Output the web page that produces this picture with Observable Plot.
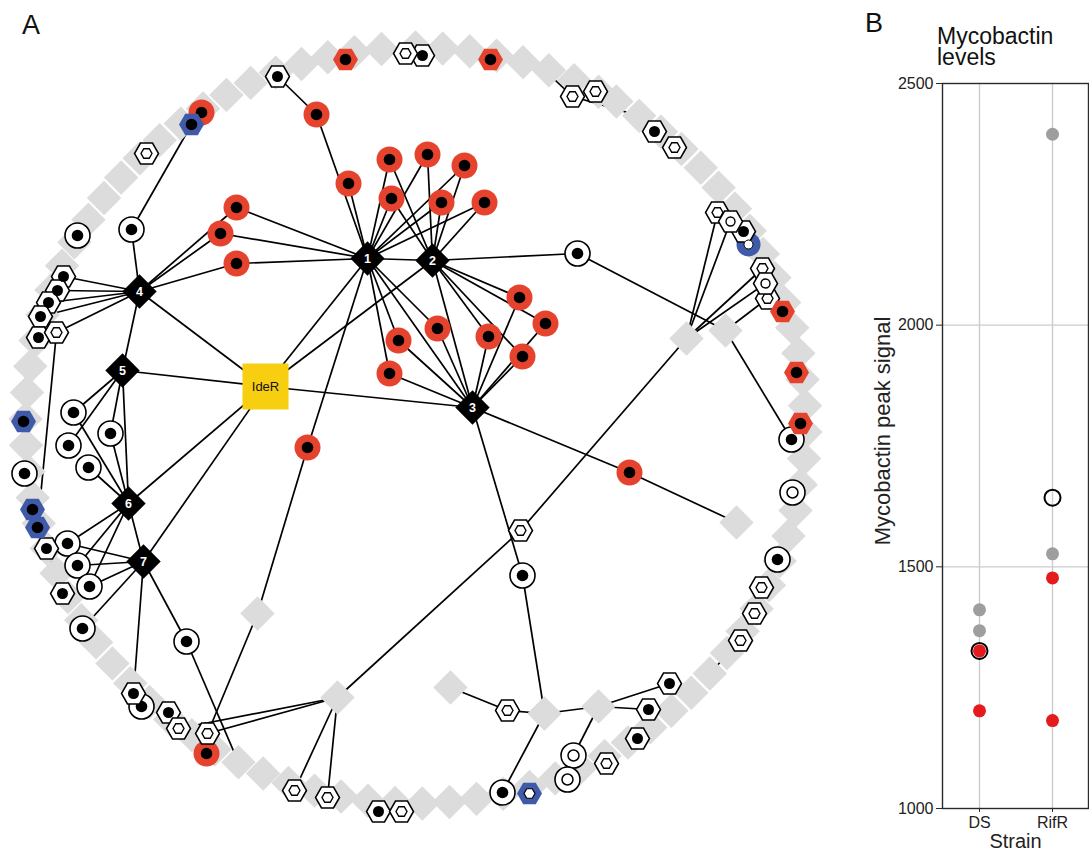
<!DOCTYPE html>
<html>
<head>
<meta charset="utf-8">
<script src="https://cdn.jsdelivr.net/npm/d3@7"></script>
<script src="https://cdn.jsdelivr.net/npm/@observablehq/plot@0.6"></script>
<style>
  body { margin: 0; background: white; }
  #wrap { position: relative; width: 1089px; height: 852px; font-family: "Liberation Sans", Arial, Helvetica, sans-serif; color: #111; overflow: hidden; }
  .lbl { position: absolute; line-height: 1; white-space: nowrap; }
</style>
</head>
<body>
<div id="wrap">
  <div id="panelA" style="position:absolute;left:0;top:0"></div>
  <div id="panelB" style="position:absolute;left:860px;top:0"></div>
  <div class="lbl" style="left:22px;top:12px;font-size:27px">A</div>
  <div class="lbl" style="left:865px;top:10px;font-size:27px">B</div>
  <div class="lbl" style="left:937px;top:26px;font-size:23px;line-height:21px">Mycobactin<br>levels</div>
</div>
<script>
// ---------------- Panel A: network (node positions) ----------------
const hubs = [["1",367,258],["2",432,260],["3",472,407],["4",139,291],["5",122,370],["6",128,503],["7",143,561]];
const ideR = ["IdeR",265,386];

const redCircles = [[316,114],[348,183],[389,159],[427,154],[464,165],[391,198],[441,202],[484,202],
  [236,207],[220,233],[236,263],[519,297],[545,323],[437,328],[488,336],[522,356],[398,340],[389,373],
  [307,447],[629,472],[206,753],[201,112]];
const dotCircles = [[77,235],[131,229],[577,253],[791,439],[777,559],[522,575],[502,792],[186,641],
  [82,628],[141,706],[73,412],[68,445],[88,467],[110,433],[24,473],[67,543],[77,565],[89,586]];
const ringCircles = [[792,492],[573,755],[567,779]];
const dotHexes = [[277,76],[422,55],[654,131],[743,231],[669,683],[648,709],[637,738],[63,276],[57,290],
  [48,302],[40,316],[38,337],[46,548],[62,593],[133,693],[168,712],[378,811]];
const hexHexes = [[146,153],[405,53],[572,96],[595,91],[674,147],[717,212],[762,268],[767,298],[761,587],
  [754,613],[740,640],[606,763],[507,710],[178,728],[207,733],[294,790],[327,797],[401,811],[56,332],[520,530]];
const hexCircles = [[730,221],[765,283]];
const redHexes = [[345,59],[490,59],[782,311],[796,372],[800,423]];
const blueHexes = [[191,124],[23,421],[32,509],[37,527]];
const blueHexHexes = [[529,793]];
const blueCircles = [[748,244]];
const grayInner = [[686,338],[725,330],[736,522],[450,687],[544,713],[598,706],[337,697],[257,613]];
// gray diamonds of the outer ring, as angles (degrees, clockwise from top)
const ringAngles = [0,4,8,12,16,20,24,28,31,35,39,43,47,51,55,59,63,67,71,75,79,83,87,91,95,99,103,107,111,
  115,119,123,127,131,135,139,143,147,151,155,159,163,167,171,175,179,183,187,191,195,199,203,207,211,215,219,
  223,227,231,235,239,243,247,251,255,259,263,267,271,275,279,283,287,291,295,299,303,307,311,315,319,323,327,
  331,335,339,343,347,351,355];
const ring = {cx: 415, cy: 425, rx: 390, ry: 378};

const edges = [
 ["I","H1"],["I","H2"],["I","H3"],["I","H4"],["I","H5"],["I","H6"],["I","H7"],
 ["H1","H2"],["H1","H3"],["H2","H3"],["H4","H5"],["H5","H6"],["H6","H7"],
 ["x0","r0"],["r0","H1"],["r1","H1"],["r2","H1"],["r3","H1"],["r4","H1"],["r5","H1"],["r6","H1"],["r7","H1"],
 ["r2","H2"],["r3","H2"],["r4","H2"],["r5","H2"],["r6","H2"],["r7","H2"],
 ["r8","H1"],["r9","H1"],["r10","H1"],["r8","H4"],["r9","H4"],["r10","H4"],
 ["r11","H3"],["r12","H3"],["r13","H3"],["r14","H3"],["r15","H3"],["r16","H3"],["r17","H3"],
 ["r11","H2"],["r12","H2"],["r14","H2"],["r15","H2"],["r13","H1"],["r16","H1"],["r17","H1"],
 ["H1","r18"],["r18","g7"],["g7","h14"],
 ["H3","r19"],["r19","g2"],
 ["H2","c2"],["c2","g1"],
 ["H3","c5"],["c5","g4"],
 ["g0","h19"],["h19","g6"],
 ["g0","h5"],["g0","k0"],["g0","h6"],["g0","k1"],["g1","h7"],["g1","c3"],
 ["H4","c1"],["c1","b0"],["H4","x7"],["H4","x8"],["H4","x9"],["H4","x10"],["H4","h18"],["h18","b3"],
 ["H5","c10"],["H5","c11"],["H5","c13"],
 ["H6","c10"],["H6","c12"],["H6","c13"],["H6","c15"],["H6","c16"],["H6","c17"],
 ["H7","c15"],["H7","c16"],["H7","c17"],["H7","c8"],["H7","c7"],["H7","x14"],
 ["x12","x13"],["x14","x15"],["c7",207],
 ["g6","h14"],["g6","h13"],["g6","h15"],["g6","h16"],
 ["g3","h12"],["h12","g4"],["g4","c6"],["g4","g5"],["g5","x4"],["g5","x5"],["g5","o1"],
 ["h2",35],["h2",19],["h10",130],["c3",97],["c4",108]
];

// ---------------- Panel B: mycobactin levels ----------------
const strains = ["DS","RifR"];
const bStrain = ["DS","DS","DS","DS","DS","RifR","RifR","RifR","RifR","RifR"];
const bSignal = [1411,1368,1326,1202,1326, 2395,1527,1477,1182,1643];
const bGroup  = ["gray","gray","red","red","open", "gray","gray","red","red","open"];
const bTicks = [1000, 1500, 2000, 2500];

// ---------------- build ----------------
const ringPos = a => [ring.cx + ring.rx * Math.sin(a * Math.PI / 180), ring.cy - ring.ry * Math.cos(a * Math.PI / 180)];
const sets = {r: redCircles, c: dotCircles, o: ringCircles, x: dotHexes, h: hexHexes, k: hexCircles,
  q: redHexes, b: blueHexes, v: blueHexHexes, u: blueCircles, g: grayInner};
function pos(id) {
  if (typeof id === "number") return ringPos(id);
  if (id === "I") return [ideR[1], ideR[2]];
  if (id[0] === "H") { const h = hubs.find(d => d[0] === id.slice(1)); return [h[1], h[2]]; }
  return sets[id[0]][+id.slice(1)];
}
const links = edges.map(([a, b]) => { const p = pos(a), q = pos(b); return {x1: p[0], y1: p[1], x2: q[0], y2: q[1]}; });
const ringPts = ringAngles.map(ringPos);

const flatHex = {draw(ctx, size) {
  const r = Math.sqrt(size / Math.PI), h = r * Math.sqrt(3) / 2;
  ctx.moveTo(r, 0); ctx.lineTo(r / 2, h); ctx.lineTo(-r / 2, h);
  ctx.lineTo(-r, 0); ctx.lineTo(-r / 2, -h); ctx.lineTo(r / 2, -h); ctx.closePath();
}};

const RED = "#e5432d", BLUE = "#3f5aa8", GRAY = "#dcdcdc";
const X = d => d[0], Y = d => d[1];
const dots = (data, o) => Plot.dot(data, {x: X, y: Y, ...o});

const chartA = Plot.plot({
  width: 850, height: 852, margin: 0,
  x: {domain: [0, 850], axis: null},
  y: {domain: [0, 852], range: [0, 852], axis: null},
  style: {fontFamily: "'Liberation Sans', Arial, sans-serif", background: "white"},
  marks: [
    Plot.link(links, {x1: "x1", y1: "y1", x2: "x2", y2: "y2", stroke: "black", strokeWidth: 1.7}),
    dots(ringPts, {symbol: "diamond2", r: 15.5, fill: GRAY}),
    dots(grayInner, {symbol: "diamond2", r: 15.5, fill: GRAY}),
    dots(redCircles, {r: 13, fill: RED}),
    dots(redCircles, {r: 5.8, fill: "black"}),
    dots(dotCircles, {r: 12.5, fill: "white", stroke: "black", strokeWidth: 1.6}),
    dots(dotCircles, {r: 5.8, fill: "black"}),
    dots(ringCircles, {r: 12.5, fill: "white", stroke: "black", strokeWidth: 1.6}),
    dots(ringCircles, {r: 5.5, fill: "white", stroke: "black", strokeWidth: 1.5}),
    dots(blueCircles, {r: 12, fill: BLUE}),
    dots(dotHexes, {symbol: flatHex, r: 12, fill: "white", stroke: "black", strokeWidth: 1.5}),
    dots(dotHexes, {r: 5.5, fill: "black"}),
    dots(hexHexes, {symbol: flatHex, r: 12, fill: "white", stroke: "black", strokeWidth: 1.5}),
    dots(hexHexes, {symbol: flatHex, r: 5.5, fill: "white", stroke: "black", strokeWidth: 1.4}),
    dots(hexCircles, {symbol: flatHex, r: 12, fill: "white", stroke: "black", strokeWidth: 1.5}),
    dots(hexCircles, {r: 4.5, fill: "white", stroke: "black", strokeWidth: 1.4}),
    dots(redHexes, {symbol: flatHex, r: 12.5, fill: RED}),
    dots(redHexes, {r: 5.8, fill: "black"}),
    dots(blueHexes, {symbol: flatHex, r: 12.5, fill: BLUE}),
    dots(blueHexes, {r: 5.8, fill: "black"}),
    dots(blueHexHexes, {symbol: flatHex, r: 12.5, fill: BLUE}),
    dots(blueHexHexes, {symbol: flatHex, r: 5.5, fill: "white", stroke: "black", strokeWidth: 1.2}),
    dots(blueCircles, {r: 4.5, fill: "white", stroke: "black", strokeWidth: 1}),
    Plot.dot(hubs, {x: d => d[1], y: d => d[2], symbol: "diamond2", r: 15.5, fill: "black"}),
    Plot.text(hubs, {x: d => d[1], y: d => d[2], text: d => d[0], fill: "white", fontWeight: "bold", fontSize: 12.5}),
    Plot.dot([ideR], {x: d => d[1], y: d => d[2], symbol: "square", r: 26, fill: "#f8cf10"}),
    Plot.text([ideR], {x: d => d[1], y: d => d[2], text: d => d[0], fill: "#111", fontSize: 13})
  ]
});
document.getElementById("panelA").appendChild(chartA);

const bData = bStrain.map((s, i) => ({strain: s, signal: bSignal[i], group: bGroup[i]}));
const chartB = Plot.plot({
  width: 229, height: 852, marginLeft: 82, marginRight: 1, marginTop: 83, marginBottom: 44,
  style: {fontFamily: "'Liberation Sans', Arial, sans-serif", fontSize: "16px", color: "#222", background: "white"},
  x: {type: "point", domain: strains, padding: 0.5},
  y: {domain: [1000, 2500]},
  marks: [
    Plot.gridX(strains, {stroke: "#cccccc", strokeOpacity: 1, strokeWidth: 1.4}),
    Plot.gridY([1500, 2000], {stroke: "#cccccc", strokeOpacity: 1, strokeWidth: 1.4}),
    Plot.frame({stroke: "#2a2a2a", strokeWidth: 1.4}),
    Plot.axisY({ticks: bTicks, tickFormat: d => String(d), tickSize: 6, tickPadding: 3, fontSize: 16, label: null, stroke: "#2a2a2a"}),
    Plot.axisX({tickSize: 4, tickPadding: 4, fontSize: 16, label: null, stroke: "#2a2a2a"}),
    Plot.dot(bData.filter(d => d.group === "open"), {x: "strain", y: "signal", r: 8, fill: "none", stroke: "black", strokeWidth: 2}),
    Plot.dot(bData.filter(d => d.group === "gray"), {x: "strain", y: "signal", r: 6.5, fill: "#9e9e9e"}),
    Plot.dot(bData.filter(d => d.group === "red"), {x: "strain", y: "signal", r: 6.5, fill: "#e41a1c"}),
    Plot.text(["Strain"], {frameAnchor: "bottom", lineAnchor: "middle", textAnchor: "middle", dy: 33.5, fontSize: 20, fill: "#222"}),
    Plot.text(["Mycobactin peak signal"], {frameAnchor: "left", lineAnchor: "middle", textAnchor: "middle", dx: -60, dy: -15, rotate: -90, fontSize: 22, fill: "#222"})
  ]
});
document.getElementById("panelB").appendChild(chartB);
</script>
</body>
</html>
